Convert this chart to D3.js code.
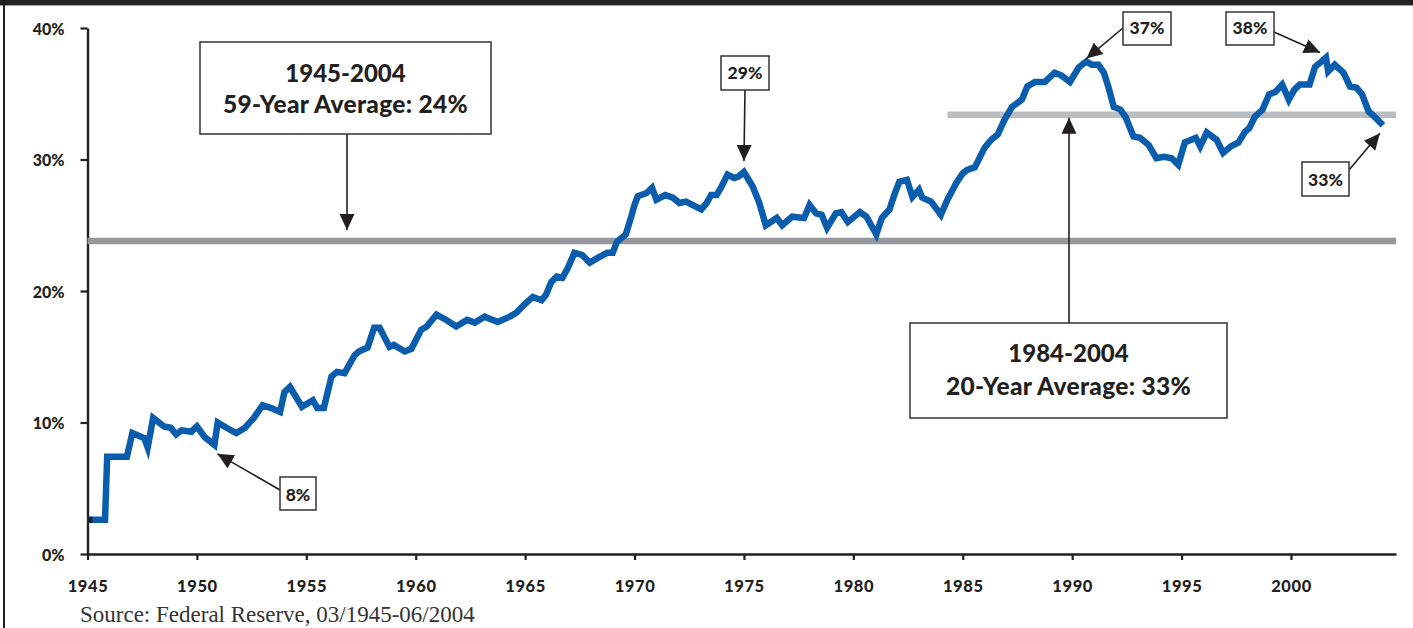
<!DOCTYPE html>
<html>
<head>
<meta charset="utf-8">
<script src="https://cdn.jsdelivr.net/npm/d3@7"></script>
<style>
  html, body { margin: 0; padding: 0; background: #fff; }
  svg { display: block; }
  .tick text { font-family: Lato, "Open Sans", sans-serif; font-weight: 900; fill: #231f20; }
</style>
</head>
<body>
<svg id="chart" width="1413" height="628"></svg>
<script>
// Household share (%) by decimal year, quarterly Federal Reserve series
const years = [
  1945.0, 1945.8, 1945.9, 1946.8, 1947.05, 1947.6, 1947.75, 1948.0, 1948.5, 1948.8,
  1949.05, 1949.3, 1949.75, 1950.0, 1950.35, 1950.8, 1950.95, 1951.35, 1951.8, 1952.2,
  1952.6, 1953.0, 1953.4, 1953.8, 1954.0, 1954.25, 1954.8, 1955.3, 1955.5, 1955.8,
  1956.15, 1956.4, 1956.75, 1957.2, 1957.4, 1957.8, 1958.1, 1958.35, 1958.8, 1959.0,
  1959.5, 1959.8, 1960.25, 1960.5, 1960.95, 1961.4, 1961.85, 1962.35, 1962.7, 1963.15,
  1963.75, 1964.3, 1964.6, 1964.95, 1965.35, 1965.75, 1965.95, 1966.2, 1966.45, 1966.7,
  1966.95, 1967.25, 1967.6, 1967.95, 1968.3, 1968.75, 1969.0, 1969.2, 1969.6, 1969.85,
  1970.0, 1970.15, 1970.55, 1970.8, 1971.0, 1971.4, 1971.75, 1972.05, 1972.35, 1973.05,
  1973.3, 1973.5, 1973.75, 1973.95, 1974.25, 1974.55, 1974.75, 1975.0, 1975.4, 1975.7,
  1976.0, 1976.5, 1976.75, 1977.2, 1977.75, 1978.0, 1978.3, 1978.55, 1978.8, 1979.2,
  1979.45, 1979.75, 1980.3, 1980.6, 1981.05, 1981.3, 1981.65, 1981.9, 1982.1, 1982.45,
  1982.7, 1983.0, 1983.15, 1983.55, 1984.0, 1984.3, 1984.7, 1985.0, 1985.2, 1985.55,
  1986.0, 1986.3, 1986.6, 1986.9, 1987.25, 1987.7, 1987.95, 1988.3, 1988.75, 1989.2,
  1989.5, 1989.9, 1990.3, 1990.65, 1990.9, 1991.2, 1991.45, 1991.65, 1991.9, 1992.2,
  1992.45, 1992.8, 1993.1, 1993.5, 1993.85, 1994.2, 1994.55, 1994.85, 1995.15, 1995.65,
  1995.85, 1996.15, 1996.6, 1996.9, 1997.25, 1997.6, 1997.9, 1998.1, 1998.35, 1998.7,
  1999.0, 1999.3, 1999.6, 1999.9, 2000.15, 2000.4, 2000.85, 2001.1, 2001.4, 2001.6,
  2001.7, 2002.0, 2002.4, 2002.7, 2003.0, 2003.25, 2003.55, 2003.85, 2004.2
];
const shares = [
  2.6, 2.6, 7.4, 7.4, 9.2, 8.8, 8.1, 10.35, 9.7, 9.6,
  9.1, 9.4, 9.3, 9.7, 8.9, 8.3, 10.0, 9.6, 9.2, 9.6,
  10.35, 11.3, 11.1, 10.8, 12.3, 12.7, 11.2, 11.7, 11.1, 11.1,
  13.5, 13.85, 13.75, 15.1, 15.4, 15.7, 17.2, 17.2, 15.75, 15.9,
  15.4, 15.6, 17.05, 17.3, 18.2, 17.8, 17.3, 17.8, 17.6, 18.05,
  17.65, 18.05, 18.35, 18.95, 19.55, 19.3, 19.7, 20.7, 21.1, 21.0,
  21.75, 22.9, 22.75, 22.15, 22.5, 22.9, 22.9, 23.75, 24.3, 25.65,
  26.55, 27.2, 27.45, 27.85, 26.95, 27.3, 27.1, 26.7, 26.8, 26.2,
  26.7, 27.3, 27.3, 27.85, 28.85, 28.6, 28.7, 29.05, 27.95, 26.7,
  25.0, 25.55, 25.0, 25.65, 25.55, 26.55, 25.9, 25.8, 24.8, 25.9,
  26.0, 25.25, 26.0, 25.65, 24.3, 25.55, 26.2, 27.45, 28.3, 28.45,
  27.15, 27.7, 27.1, 26.8, 25.8, 26.95, 28.2, 28.95, 29.2, 29.4,
  30.9, 31.5, 31.9, 33.0, 34.0, 34.55, 35.55, 35.9, 35.9, 36.6,
  36.4, 35.9, 37.0, 37.45, 37.2, 37.2, 36.6, 35.55, 34.0, 33.8,
  33.2, 31.75, 31.65, 31.1, 30.1, 30.2, 30.1, 29.6, 31.3, 31.65,
  31.0, 32.05, 31.5, 30.5, 31.0, 31.3, 32.1, 32.4, 33.25, 33.8,
  34.95, 35.15, 35.7, 34.55, 35.3, 35.7, 35.7, 37.05, 37.45, 37.75,
  36.7, 37.2, 36.6, 35.55, 35.45, 34.95, 33.65, 33.2, 32.6
];

// Long-run averages: start year, end year, value (%)
const avgStarts = [1945, 1984];
const avgEnds = [2004, 2004];
const avgValues = [23.8, 33.4];

// Years whose values are called out
const calloutYears = [1950.8, 1975.0, 1990.65, 2001.6, 2004.2];

const xTicks = [1945, 1950, 1955, 1960, 1965, 1970, 1975, 1980, 1985, 1990, 1995, 2000];
const yTicks = [0, 10, 20, 30, 40];

const svg = d3.select("#chart");
const FONT = 'Lato, "Open Sans", sans-serif';
const INK = "#231f20";

const x = d3.scaleLinear().domain([1945, 2004.8]).range([87.5, 1396]);
const y = d3.scaleLinear().domain([0, 40]).range([554, 28]);
const pct = v => Math.round(v) + "%";
const valueAt = yr => shares[years.indexOf(yr)];

// page frame: dark top rule and left rule
svg.append("rect").attr("x", 0).attr("y", 0).attr("width", 1413).attr("height", 5).attr("fill", "#25232a");
svg.append("rect").attr("x", 0).attr("y", 5).attr("width", 1413).attr("height", 1).attr("fill", "#9aa0b4");
svg.append("line").attr("x1", 4).attr("x2", 4).attr("y1", 0).attr("y2", 628)
  .attr("stroke", INK).attr("stroke-width", 2);

// axes
const xAxis = svg.append("g").attr("transform", `translate(0,${y(0)})`)
  .call(d3.axisBottom(x).tickValues(xTicks).tickFormat(d3.format("d"))
    .tickSize(6).tickSizeOuter(0).tickPadding(20));
xAxis.selectAll("text").attr("font-size", 16.5).attr("letter-spacing", 0.6);

const yAxis = svg.append("g").attr("transform", `translate(${x(1945)},0)`)
  .call(d3.axisLeft(y).tickValues(yTicks).tickFormat(d => d + "%")
    .tickSize(7).tickSizeOuter(0).tickPadding(16));
yAxis.selectAll("text").attr("font-size", 16).attr("dy", "0.4em");

svg.selectAll(".domain").attr("stroke", INK).attr("stroke-width", 2.4);
svg.selectAll(".tick line").attr("stroke", INK).attr("stroke-width", 2.2);

// average lines
const avgColors = ["#97989b", "#bcbdc0"];
avgValues.forEach((v, i) => {
  svg.append("line")
    .attr("x1", i === 0 ? x(avgStarts[i]) : x(avgStarts[i] + 0.3))
    .attr("x2", x(2004.8))
    .attr("y1", y(v)).attr("y2", y(v))
    .attr("stroke", avgColors[i]).attr("stroke-width", 6.5);
});

// the series
const line = d3.line().x((d, i) => x(years[i])).y(d => y(d));
svg.append("path").datum(shares)
  .attr("d", line)
  .attr("fill", "none")
  .attr("stroke", "#0a5cac")
  .attr("stroke-width", 6.5)
  .attr("stroke-linejoin", "miter")
  .attr("stroke-miterlimit", 4);
svg.append("rect")
  .attr("x", x(years[0])).attr("y", y(shares[0]) - 3)
  .attr("width", 5).attr("height", 6).attr("fill", INK);

// arrowheads
const defs = svg.append("defs");
defs.append("marker")
  .attr("id", "head").attr("markerUnits", "userSpaceOnUse")
  .attr("viewBox", "0 -8 16 16").attr("refX", 16).attr("refY", 0)
  .attr("markerWidth", 16).attr("markerHeight", 16).attr("orient", "auto")
  .append("path").attr("d", "M0,-7.5L16,0L0,7.5Z").attr("fill", INK);

function arrow(x1, y1, x2, y2) {
  svg.append("line")
    .attr("x1", x1).attr("y1", y1).attr("x2", x2).attr("y2", y2)
    .attr("stroke", INK).attr("stroke-width", 1.6)
    .attr("marker-end", "url(#head)");
}

function box(bx, by, bw, bh) {
  svg.append("rect")
    .attr("x", bx).attr("y", by).attr("width", bw).attr("height", bh)
    .attr("fill", "#fff").attr("stroke", "#333").attr("stroke-width", 1.5);
}

function label(tx, ty, text, size, spacing) {
  svg.append("text")
    .attr("x", tx).attr("y", ty)
    .attr("text-anchor", "middle")
    .attr("font-family", FONT).attr("font-weight", 900)
    .attr("font-size", size).attr("letter-spacing", spacing)
    .attr("fill", INK)
    .text(text);
}

// average call-out boxes
const avgBoxes = [
  { bx: 200, by: 42, bw: 291, bh: 92, cx: 347, l1: 82, l2: 113 },
  { bx: 910, by: 323, bw: 317, bh: 95, cx: 1069, l1: 362, l2: 395 }
];
avgValues.forEach((v, i) => {
  const b = avgBoxes[i];
  if (i === 0) arrow(b.cx, b.by + b.bh, b.cx, y(v) - 11);
  else arrow(b.cx, b.by, b.cx, y(v) + 3);
  box(b.bx, b.by, b.bw, b.bh);
  const mid = b.bx + b.bw / 2;
  label(mid, b.l1, `${avgStarts[i]}-${avgEnds[i]}`, 24, 0);
  label(mid, b.l2, `${avgEnds[i] - avgStarts[i]}-Year Average: ${pct(v)}`, 24.5, 0.3);
});

// value call-outs: box rect, arrow start, arrow tip offset from the point
const callLayout = [
  { bx: 280, by: 477, bw: 36, bh: 33, base: 501, from: [280, 490], off: [3, 9] },
  { bx: 721, by: 56, bw: 48, bh: 34, base: 79, from: [745, 90], off: [0, -11] },
  { bx: 1123, by: 12, bw: 48, bh: 33, base: 34, from: [1123, 28], off: [0, -3] },
  { bx: 1226, by: 12, bw: 48, bh: 33, base: 34, from: [1274, 32], off: [-6, -5] },
  { bx: 1302, by: 162, bw: 47, bh: 34, base: 186, from: [1349, 170], off: [-3, 8] }
];
calloutYears.forEach((yr, i) => {
  const c = callLayout[i];
  const v = valueAt(yr);
  arrow(c.from[0], c.from[1], x(yr) + c.off[0], y(v) + c.off[1]);
  box(c.bx, c.by, c.bw, c.bh);
  label(c.bx + c.bw / 2, c.base, pct(v), 17.5, 0);
});

// source note
svg.append("text")
  .attr("x", 80).attr("y", 622)
  .attr("font-family", '"Liberation Serif", "DejaVu Serif", serif')
  .attr("font-size", 23).attr("fill", "#333")
  .text("Source: Federal Reserve, 03/1945-06/2004");
</script>
</body>
</html>
